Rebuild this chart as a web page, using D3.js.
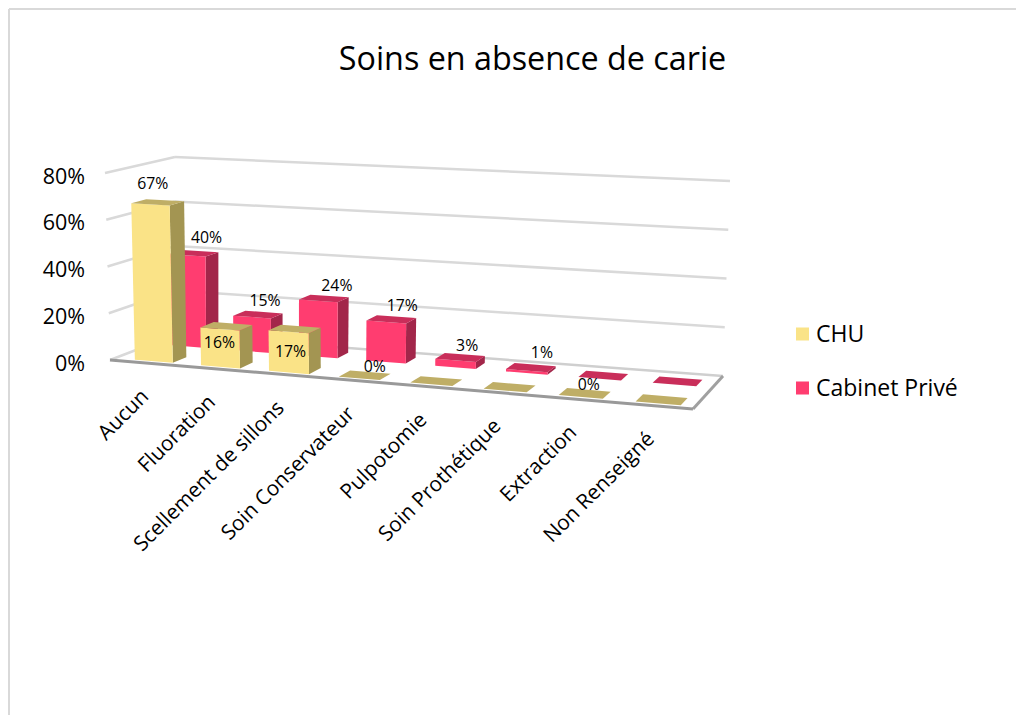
<!DOCTYPE html>
<html><head><meta charset="utf-8">
<script src="https://cdn.jsdelivr.net/npm/d3@7"></script>
<style>html,body{margin:0;padding:0;background:#fff}svg{display:block}text{font-family:"Open Sans",sans-serif;fill:#000}</style>
</head><body><svg id="c" width="1016" height="715"></svg>
<script>
const categories = ["Aucun","Fluoration","Scellement de sillons","Soin Conservateur","Pulpotomie","Soin Prothétique","Extraction","Non Renseigné"];
const seriesNames = ["CHU","Cabinet Privé"];
const chuValues = [67,16,17,0,0,0,0,0];
const cabinetValues = [40,15,24,17,3,1,0,0];
const chuShown = [true,true,true,true,false,false,true,false];
const cabinetShown = [true,true,true,true,true,true,false,false];
const yTicks = [0,20,40,60,80];

const svg = d3.select("#c");
// 8 corners of the plot box [floor, top at 80 %]
const box = {
  fl:[[110,360],[105,173]], fr:[[693,409],[697,205]],
  bl:[[175,335],[175,157]], br:[[723,376],[730,181]]
};
const lerp = d3.interpolateNumber;
const warp = u => 0.9*u + 0.1*u*u;
const hScale = d3.scaleLinear().domain([0,80]).range([0,1]);
function P(u,v,val){
  const t = hScale(val), w = warp(u);
  const c = k => {
    const a = i => lerp(box.fl[i][k],box.fr[i][k])(w);
    const b = i => lerp(box.bl[i][k],box.br[i][k])(w);
    const f = lerp(a(0),a(1))(t), g = lerp(b(0),b(1))(t);
    return lerp(f,g)(v);
  };
  return [c(0),c(1)];
}
const band = d3.scaleBand().domain(categories).range([0,0.992]);
const barW = 0.0715;
const line = d3.line();
const poly = (pts,fill) => svg.append("path").attr("d",line(pts)+"Z").attr("fill",fill);
const seg = (a,b,col,w) => svg.append("line").attr("x1",a[0]).attr("y1",a[1]).attr("x2",b[0]).attr("y2",b[1]).attr("stroke",col).attr("stroke-width",w);

// frame
seg([9,9],[1016,9],"#D9D9D9",2);
seg([9,9],[9,715],"#D9D9D9",2);

// title
svg.append("text").attr("x",532.5).attr("y",70).attr("text-anchor","middle").attr("font-size",32.3).text("Soins en absence de carie");

// walls and floor
yTicks.forEach(t=>{
  if(t>0){
    seg(P(0,0,t),P(0,1,t),"#D9D9D9",2.5);
    seg(P(0,1,t),P(1,1,t),"#D9D9D9",2.5);
  }
  svg.append("text").attr("x",85).attr("y",P(0,0,t)[1]+10.5).attr("text-anchor","end").attr("font-size",21.5).text(t+"%");
});
poly([P(0,0,0),P(1,0,0),P(1,1,0),P(0,1,0)],"#fff");
seg(P(0,0,0),P(0,1,0),"#D9D9D9",2.5);
seg(P(0,1,0),P(1,1,0),"#CFCFCF",2.5);
seg(P(1,1,0),P(1,0,0),"#A0A0A0",3);
seg(P(0,0,0),P(1,0,0),"#999999",3);

function bar(cat,val,off,v0,v1,cols){
  const u0 = band(cat)+off, u1 = u0+barW;
  if(val>0){
    poly([P(u1,v0,0),P(u1,v1,0),P(u1,v1,val),P(u1,v0,val)],cols.side);
    poly([P(u0,v0,0),P(u1,v0,0),P(u1,v0,val),P(u0,v0,val)],cols.front);
  }
  poly([P(u0,v0,val),P(u1,v0,val),P(u1,v1,val),P(u0,v1,val)],cols.top);
}
const chuCols = {front:"#FAE387",side:"#A39552",top:"#BFAE66"};
const cabCols = {front:"#FF3D70",side:"#A2264A",top:"#C92E5A"};
categories.forEach((c,i)=>bar(c,cabinetValues[i],0.034,0.65,0.85,cabCols));
categories.forEach((c,i)=>bar(c,chuValues[i],0.0375,0.08,0.30,chuCols));

// data labels, relative to the top of each bar
const lab = (p,dx,dy,t)=>svg.append("text").attr("x",p[0]+dx).attr("y",p[1]+dy).attr("text-anchor","middle").attr("font-size",15.8).text(t);
const chuNudge = [[-5,-13],[-7,22],[-4,28],[10,-3],[0,0],[0,0],[4,-3],[0,0]];
const cabNudge = [[13,-10],[7,-9],[13,-7],[11,-8],[7,-6],[11,-10],[0,0],[0,0]];
categories.forEach((c,i)=>{
  if(cabinetShown[i]) lab(P(band(c)+0.034+barW/2,0.75,cabinetValues[i]),cabNudge[i][0],cabNudge[i][1],cabinetValues[i]+"%");
});
categories.forEach((c,i)=>{
  if(chuShown[i]) lab(P(band(c)+0.0375+barW/2,0.19,chuValues[i]),chuNudge[i][0],chuNudge[i][1],chuValues[i]+"%");
});

// category labels
categories.forEach((c,i)=>{
  const p = P(band(c)+band.bandwidth()/2,0,0);
  svg.append("text").attr("transform",`translate(${p[0]+7},${p[1]+35}) rotate(-45)`).attr("text-anchor","end").attr("font-size",20.8).text(c);
});

// legend
const legY = d3.scalePoint().domain(seriesNames).range([334,388]);
const legCols = [chuCols.front,cabCols.front];
seriesNames.forEach((s,i)=>{
  svg.append("rect").attr("x",796).attr("y",legY(s)-6.5).attr("width",13).attr("height",13).attr("fill",legCols[i]);
  svg.append("text").attr("x",816).attr("y",legY(s)+8).attr("font-size",23).text(s);
});
</script></body></html>
